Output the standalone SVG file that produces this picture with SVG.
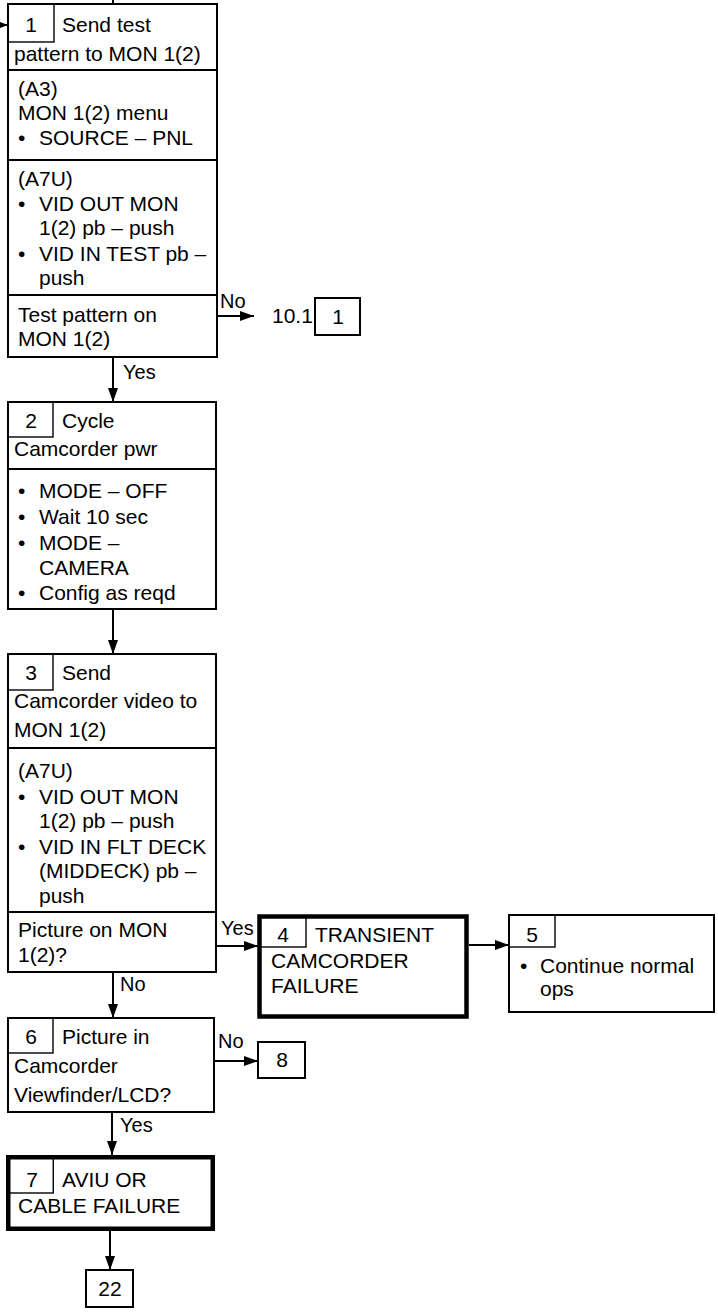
<svg xmlns="http://www.w3.org/2000/svg" width="718" height="1312" viewBox="0 0 718 1312">
<style>
text{font-family:"Liberation Sans",Arial,sans-serif;font-size:21px;fill:#000}
.lbl{font-size:20px}
.c{text-anchor:middle}
.b{fill:#fff;stroke:#000;stroke-width:2}
.k{fill:#fff;stroke:#000;stroke-width:4.5}
.n{fill:none;stroke:#000;stroke-width:1.4}
.d{stroke:#000;stroke-width:2}
.cn{stroke:#000;stroke-width:2;fill:none}
</style>
<defs>
<marker id="ah" markerUnits="userSpaceOnUse" markerWidth="14" markerHeight="10" refX="14" refY="5" orient="auto">
<path d="M0,0 L14,5 L0,10 z" fill="#000"/>
</marker>
<marker id="ahs" markerUnits="userSpaceOnUse" markerWidth="8" markerHeight="6" refX="8" refY="3" orient="auto">
<path d="M0,0 L8,3 L0,6 z" fill="#000"/>
</marker>
</defs>

<g id="connectors">
<line class="cn" x1="113" y1="0" x2="113" y2="4"/>
<line class="cn" x1="0" y1="25" x2="8" y2="25" marker-end="url(#ahs)"/>
<line class="cn" x1="217" y1="316" x2="254" y2="316" marker-end="url(#ah)"/>
<line class="cn" x1="113" y1="357" x2="113" y2="402" marker-end="url(#ah)"/>
<line class="cn" x1="113" y1="609" x2="113" y2="654" marker-end="url(#ah)"/>
<line class="cn" x1="216" y1="946" x2="258" y2="946" marker-end="url(#ah)"/>
<line class="cn" x1="469" y1="945" x2="509" y2="945" marker-end="url(#ah)"/>
<line class="cn" x1="113" y1="972" x2="113" y2="1018" marker-end="url(#ah)"/>
<line class="cn" x1="214" y1="1061" x2="258" y2="1061" marker-end="url(#ah)"/>
<line class="cn" x1="112" y1="1112" x2="112" y2="1155" marker-end="url(#ah)"/>
<line class="cn" x1="110" y1="1231" x2="110" y2="1270" marker-end="url(#ah)"/>
<text class="lbl" x="220" y="308">No</text>
<text x="272" y="323">10.1</text>
<text class="lbl" x="123" y="379">Yes</text>
<text class="lbl" x="221" y="935">Yes</text>
<text class="lbl" x="120" y="991">No</text>
<text class="lbl" x="218" y="1048">No</text>
<text class="lbl" x="120" y="1132">Yes</text>
</g>

<g id="node1">
<rect class="b" x="8" y="4" width="209" height="353"/>
<rect class="n" x="8" y="4" width="46" height="38"/>
<line class="d" x1="8" y1="70" x2="217" y2="70"/>
<line class="d" x1="8" y1="160" x2="217" y2="160"/>
<line class="d" x1="8" y1="295" x2="217" y2="295"/>
<text class="c" x="31" y="32">1</text>
<text x="62" y="32">Send test</text>
<text x="14" y="61">pattern to MON 1(2)</text>
<text x="18" y="96">(A3)</text>
<text x="18" y="120">MON 1(2) menu</text>
<text x="18" y="145">•</text><text x="39" y="145">SOURCE – PNL</text>
<text x="18" y="186">(A7U)</text>
<text x="18" y="211">•</text><text x="39" y="211">VID OUT MON</text>
<text x="39" y="235">1(2) pb – push</text>
<text x="18" y="261">•</text><text x="39" y="261">VID IN TEST pb –</text>
<text x="39" y="285">push</text>
<text x="18" y="322">Test pattern on</text>
<text x="18" y="346">MON 1(2)</text>
</g>

<g id="ref10-1">
<rect class="b" x="315" y="298" width="45" height="37"/>
<text class="c" x="338" y="324">1</text>
</g>

<g id="node2">
<rect class="b" x="8" y="402" width="208" height="207"/>
<rect class="n" x="8" y="402" width="45" height="35"/>
<line class="d" x1="8" y1="469" x2="216" y2="469"/>
<text class="c" x="31" y="428">2</text>
<text x="62" y="428">Cycle</text>
<text x="14" y="456">Camcorder pwr</text>
<text x="18" y="498">•</text><text x="39" y="498">MODE – OFF</text>
<text x="18" y="524">•</text><text x="39" y="524">Wait 10 sec</text>
<text x="18" y="550">•</text><text x="39" y="550">MODE –</text>
<text x="39" y="575">CAMERA</text>
<text x="18" y="600">•</text><text x="39" y="600">Config as reqd</text>
</g>

<g id="node3">
<rect class="b" x="8" y="654" width="208" height="318"/>
<rect class="n" x="8" y="654" width="45" height="36"/>
<line class="d" x1="8" y1="748" x2="216" y2="748"/>
<line class="d" x1="8" y1="912" x2="216" y2="912"/>
<text class="c" x="31" y="680">3</text>
<text x="62" y="680">Send</text>
<text x="14" y="708">Camcorder video to</text>
<text x="14" y="737">MON 1(2)</text>
<text x="18" y="778">(A7U)</text>
<text x="18" y="804">•</text><text x="39" y="804">VID OUT MON</text>
<text x="39" y="828">1(2) pb – push</text>
<text x="18" y="854">•</text><text x="39" y="854">VID IN FLT DECK</text>
<text x="39" y="878">(MIDDECK) pb –</text>
<text x="39" y="903">push</text>
<text x="18" y="937">Picture on MON</text>
<text x="18" y="962">1(2)?</text>
</g>

<g id="node4">
<rect class="k" x="259.5" y="916.5" width="207" height="100"/>
<rect class="n" x="259.5" y="916.5" width="46.5" height="30.5"/>
<text class="c" x="283" y="942">4</text>
<text x="315" y="942">TRANSIENT</text>
<text x="271" y="968">CAMCORDER</text>
<text x="271" y="993">FAILURE</text>
</g>

<g id="node5">
<rect class="b" x="509" y="915" width="205" height="97"/>
<rect class="n" x="509" y="915" width="46" height="32"/>
<text class="c" x="532" y="942">5</text>
<text x="520" y="973">•</text><text x="540" y="973">Continue normal</text>
<text x="540" y="996">ops</text>
</g>

<g id="node6">
<rect class="b" x="8" y="1018" width="206" height="94"/>
<rect class="n" x="8" y="1018" width="45" height="35"/>
<text class="c" x="31" y="1044">6</text>
<text x="62" y="1044">Picture in</text>
<text x="14" y="1073">Camcorder</text>
<text x="14" y="1102">Viewfinder/LCD?</text>
</g>

<g id="node8">
<rect class="b" x="258" y="1042" width="47" height="36"/>
<text class="c" x="282" y="1067">8</text>
</g>

<g id="node7">
<rect class="k" x="8.25" y="1157.25" width="204.5" height="71.5"/>
<rect class="n" x="8.25" y="1157.25" width="45" height="35.75"/>
<text class="c" x="32" y="1187">7</text>
<text x="62" y="1187">AVIU OR</text>
<text x="18" y="1213">CABLE FAILURE</text>
</g>

<g id="node22">
<rect class="b" x="86" y="1270" width="47" height="37"/>
<text class="c" x="110" y="1296">22</text>
</g>
</svg>
